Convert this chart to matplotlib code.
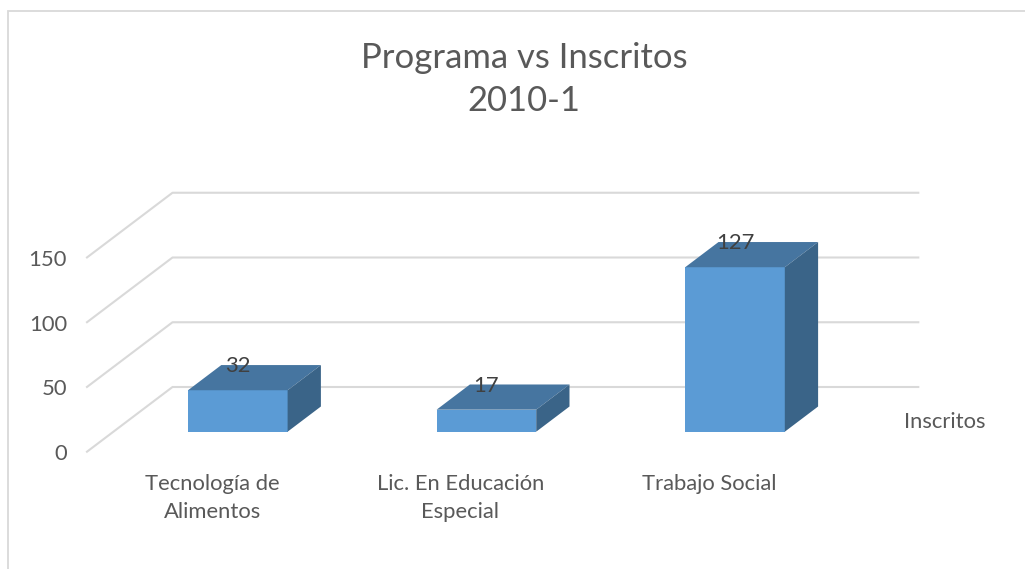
import matplotlib
matplotlib.use('Agg')
import matplotlib.pyplot as plt
from matplotlib.patches import Polygon

plt.rcParams['font.family'] = ['Lato', 'DejaVu Sans']

# Data
categories = ['Tecnología de\nAlimentos', 'Lic. En Educación\nEspecial', 'Trabajo Social']
inscritos = [32, 17, 127]
y_ticks = [0, 50, 100, 150]
series_name = 'Inscritos'
title = 'Programa vs Inscritos\n2010-1'

W, H = 1025, 569
PX_Y = 1.295      # pixels per student
PX_X = 248.6      # pixels per category
X0, Y0 = 237.8, 431.7   # pixel position of first category, value 0

TEXT = '#595959'
GRID = '#d9d9d9'
FRONT = '#5b9bd5'
TOP = '#4675a0'
SIDE = '#3a6488'

fig = plt.figure(figsize=(W / 100, H / 100), dpi=100)
ax = fig.add_axes([0, 0, 1, 1])
ax.set_xlim(-X0 / PX_X, (W - X0) / PX_X)
ax.set_ylim((Y0 - H) / PX_Y, Y0 / PX_Y)
ax.axis('off')


def dx(px):
    return px / PX_X


def dy(px):
    return px / PX_Y


# chart border
ax.plot([dx(8 - X0), dx(8 - X0), dx(W - X0)],
        [dy(Y0 - H), dy(Y0 - 11.5), dy(Y0 - 11.5)], color=GRID, lw=1.3, solid_joinstyle='miter')

# gridlines: side wall diagonal then back wall
left_x, corner_x, right_x = dx(87 - X0), dx(172.5 - X0), dx(918.3 - X0)
for v in y_ticks:
    y_front = v + dy(Y0 - 451.7)
    y_back = v + dy(Y0 - 387)
    ax.plot([left_x, corner_x, right_x], [y_front, y_back, y_back], color=GRID, lw=1.5, zorder=1)
    ax.text(dx(67 - X0), y_front - dy(2.5), str(v), ha='right', va='center', fontsize=15.8, color=TEXT)

# bars
half = dx(49.8)
depth_x, depth_y = dx(33.3), dy(25.2)
for i, (name, v) in enumerate(zip(categories, inscritos)):
    ax.add_patch(Polygon([(i - half, 0), (i + half, 0), (i + half, v), (i - half, v)],
                         facecolor=FRONT, edgecolor='none', zorder=3))
    ax.add_patch(Polygon([(i - half, v), (i + half, v), (i + half + depth_x, v + depth_y), (i - half + depth_x, v + depth_y)],
                         facecolor=TOP, edgecolor='none', zorder=3))
    ax.add_patch(Polygon([(i + half, 0), (i + half + depth_x, depth_y), (i + half + depth_x, v + depth_y), (i + half, v)],
                         facecolor=SIDE, edgecolor='none', zorder=3))
    ax.text(i, v + dy(24), str(v), ha='center', va='center', fontsize=15.8, color='#404040', zorder=4)
    ax.text(i - dx(25 if i == 0 else 26), dy(Y0 - 474), name, ha='center', va='top',
            fontsize=15.8, color=TEXT, linespacing=1.5)

ax.text(dx(944.5 - X0), dy(Y0 - 422), series_name, ha='center', va='center', fontsize=15.8, color=TEXT)
ax.text(dx(524 - X0), dy(Y0 - 79.5), title, ha='center', va='center', fontsize=24.9, color=TEXT, linespacing=1.4)

fig.savefig('out.png', dpi=100)
